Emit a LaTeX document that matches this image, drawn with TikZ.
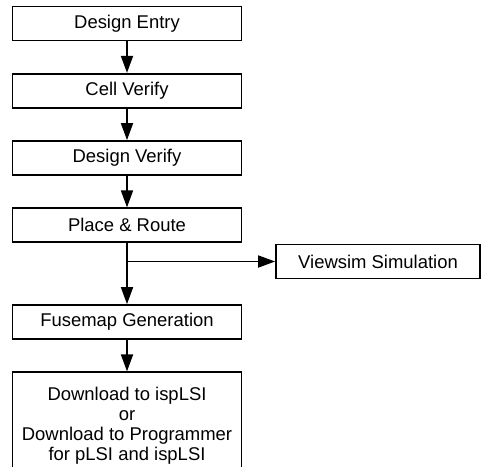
\documentclass[tikz,border=0pt]{standalone}
\usepackage{fontspec}
\setmainfont{Liberation Sans}
\usetikzlibrary{
  arrows.meta,
  positioning, calc
}

\tikzset{
  stage/.style={draw, line width=1pt, minimum width=4.58cm,
    minimum height=0.68cm, inner sep=0pt, align=center},
  flow/.style={-{Triangle[length=0.34cm, width=0.24cm]}, line width=1pt}
}

\begin{document}
\begin{tikzpicture}[font=\fontsize{10.5}{11.4}\selectfont, node distance=0.63cm]
  \useasboundingbox (0,0) rectangle (9.84,-9.32);

  % main flow
  \node[stage] (entry) at (2.54,-0.47) {Design Entry};
  \node[stage, below=of entry] (cell) {Cell Verify};
  \node[stage, below=of cell] (verify) {Design Verify};
  \node[stage, below=of verify] (route) {Place \& Route};
  \node[stage, below=1.22cm of route] (fuse) {Fusemap Generation};
  \node[stage, below=of fuse, minimum height=2.12cm] (load)
    {Download to ispLSI\\or\\Download to Programmer\\for pLSI and ispLSI};

  % side branch
  \node[stage, minimum width=4.08cm] (sim) at (7.56,-5.23) {Viewsim Simulation};
  \coordinate (split) at (route.south |- sim.west);

  \draw[flow] (entry) -- (cell);
  \draw[flow] (cell) -- (verify);
  \draw[flow] (verify) -- (route);
  \draw[flow] (route) -- (fuse);
  \draw[flow] (split) -- (sim);
  \draw[flow] (fuse) -- (load);
\end{tikzpicture}
\end{document}
